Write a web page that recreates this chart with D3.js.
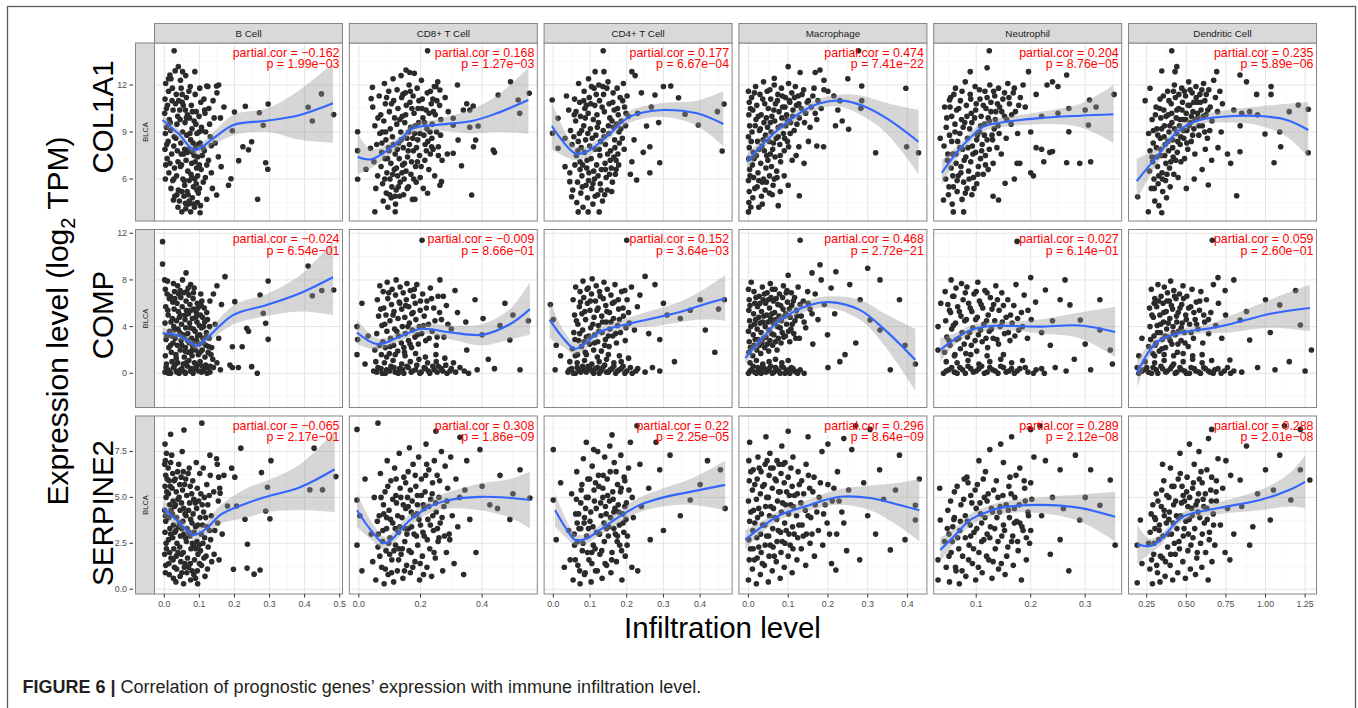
<!DOCTYPE html>
<html>
<head>
<meta charset="utf-8">
<script src="https://cdn.jsdelivr.net/npm/d3@7"></script>
<style>
body { margin: 0; background: #fff; }
svg text { font-family: "Liberation Sans", Arial, Helvetica, sans-serif; }
</style>
</head>
<body>
<svg id="fig" width="1358" height="708"></svg>
<script>
// facets
var cells = ["B Cell", "CD8+ T Cell", "CD4+ T Cell", "Macrophage", "Neutrophil", "Dendritic Cell"];
var genes = ["COL1A1", "COMP", "SERPINE2"];

var partialCor = [["-0.162", "0.168", "0.177", "0.474", "0.204", "0.235"],
                  ["-0.024", "-0.009", "0.152", "0.468", "0.027", "0.059"],
                  ["-0.065", "0.308", "0.22", "0.296", "0.289", "0.288"]];
var pValues = [["1.99e-03", "1.27e-03", "6.67e-04", "7.41e-22", "8.76e-05", "5.89e-06"],
               ["6.54e-01", "8.66e-01", "3.64e-03", "2.72e-21", "6.14e-01", "2.60e-01"],
               ["2.17e-01", "1.86e-09", "2.25e-05", "8.64e-09", "2.12e-08", "2.01e-08"]];

// axes (x per cell column, y per gene row)
var xDomains = [[-0.028, 0.508], [-0.031, 0.579], [-0.025, 0.487], [-0.024, 0.449], [0.022, 0.367], [0.135, 1.322]];
var xTicks = [[0, 0.1, 0.2, 0.3, 0.4, 0.5], [0, 0.2, 0.4], [0, 0.1, 0.2, 0.3, 0.4], [0, 0.1, 0.2, 0.3, 0.4], [0.1, 0.2, 0.3], [0.25, 0.5, 0.75, 1, 1.25]];
var xTickLabels = [["0.0", "0.1", "0.2", "0.3", "0.4", "0.5"], ["0.0", "0.2", "0.4"], ["0.0", "0.1", "0.2", "0.3", "0.4"], ["0.0", "0.1", "0.2", "0.3", "0.4"], ["0.1", "0.2", "0.3"], ["0.25", "0.50", "0.75", "1.00", "1.25"]];
var yDomains = [[3.32, 14.68], [-2.93, 12.32], [-0.26, 9.43]];
var yTicks = [[6, 9, 12], [0, 4, 8, 12], [0, 2.5, 5, 7.5]];
var yTickLabels = [["6", "9", "12"], ["0", "4", "8", "12"], ["0.0", "2.5", "5.0", "7.5"]];

// scatter points, flat x,y pairs, one list per cell
var col1a1Pts = [
 [.004,12.1,.012,11.6,.002,11.1,.009,10.7,.001,10.2,.014,9.8,.006,9.3,.003,8.9,.011,8.4,.002,7.9,.008,7.3,.004,6.9,.013,6.4,.019,12.4,.022,11.0,.025,10.4,.018,9.1,.027,8.1,.021,7.6,.029,6.7,.024,5.9,.031,12.9,.034,11.4,.038,10.0,.036,9.5,.033,8.6,.039,7.1,.035,6.2,.040,5.3,.043,4.6,.046,12.3,.048,11.8,.051,10.9,.044,10.4,.052,9.0,.047,8.3,.055,7.6,.049,6.9,.053,6.0,.058,5.6,.056,4.9,.061,12.6,.063,11.2,.066,10.1,.059,9.6,.064,8.8,.068,7.9,.062,7.2,.067,6.5,.071,5.9,.065,5.2,.069,4.4,.074,11.9,.077,10.7,.072,9.9,.079,9.2,.075,8.5,.081,7.7,.078,7.0,.076,6.3,.083,5.5,.080,4.8,.086,4.2,.088,11.4,.091,10.3,.085,9.7,.093,8.9,.089,8.0,.095,7.4,.092,6.7,.087,6.0,.097,5.1,.094,4.5,.101,11.8,.104,10.9,.099,10.0,.106,9.3,.102,8.3,.108,7.5,.105,6.6,.111,5.8,.100,5.4,.113,11.1,.116,10.2,.118,9.0,.114,7.8,.121,6.9,.117,6.1,.124,11.9,.127,10.5,.129,9.5,.131,8.7,.126,7.2,.134,6.4,.139,11.0,.142,9.9,.137,5.4,.145,8.3,
  .028,14.19,.04,13.17,.052,12.85,.087,12.85,.016,12.64,.448,11.43,.41,10.58,.422,9.70,.483,10.11,.296,10.79,.282,9.43,.271,10.23,.231,10.64,.2,10.28,.194,9.08,.134,8.13,.212,7.17,.224,8.06,.24,7.87,.249,8.38,.289,7.04,.295,6.62,.183,5.60,.19,6.02,.149,4.98,.121,4.71,.266,4.71,.162,6.79,.154,7.42,.05,3.91,.075,3.91,.102,3.85,.026,4.66,.06,4.45,.16,9.9,.17,10.6,.15,11.5,.155,12.0,.121,11.94,.149,11.94],
 [.045,10.6,.052,9.4,.058,8.2,.049,7.1,.061,6.2,.055,5.4,.066,11.3,.071,10.1,.068,8.9,.074,7.7,.072,6.8,.077,5.7,.079,4.6,.083,12.1,.086,10.8,.081,9.7,.088,8.5,.085,7.3,.091,6.4,.089,5.1,.094,4.2,.097,11.6,.099,10.3,.102,9.2,.096,8.0,.104,7.0,.101,6.0,.107,5.5,.105,4.8,.111,12.4,.113,11.0,.116,9.9,.109,8.7,.118,7.6,.115,6.6,.121,5.3,.119,4.4,.124,11.7,.127,10.5,.123,9.5,.129,8.3,.131,7.3,.126,6.2,.134,5.8,.132,4.9,.137,12.6,.139,11.2,.141,10.0,.136,9.0,.144,8.0,.142,6.9,.147,6.0,.145,5.0,.151,11.5,.154,10.7,.149,9.6,.156,8.6,.158,7.4,.153,6.5,.161,5.5,.163,12.0,.166,10.9,.168,9.3,.164,8.2,.171,7.1,.169,6.3,.174,4.7,.176,11.3,.179,10.2,.181,8.9,.177,7.8,.184,6.8,.186,5.8,.189,11.8,.192,10.5,.194,9.6,.191,8.5,.197,7.5,.199,6.1,.203,12.3,.206,11.1,.208,9.9,.211,8.8,.214,7.2,.209,5.4,.218,10.4,.221,9.2,.224,8.4,.227,6.6,.232,11.6,.235,10.8,.238,9.5,.241,7.9,.245,11.9,.248,10.1,.252,9.0,.256,12.2,.262,10.7,.266,9.8,
  .223,14.19,.153,12.96,.165,12.8,.18,12.75,.044,11.85,.04,11.13,-.004,9.02,-.004,7.81,-.004,5.98,.023,6.62,.038,7.96,.052,3.91,.118,3.91,.182,4.71,.223,5.09,.268,5.83,.263,5.6,.366,4.98,.333,6.85,.306,7.64,.27,7.2,.258,8.06,.236,8.06,.232,7.6,.287,7.6,.322,8.49,.379,8.49,.372,8.06,.436,7.85,.44,7.7,.387,9.38,.36,9.3,.306,9.87,.306,9.43,.32,12.0,.371,10.66,.35,10.8,.339,10.4,.36,10.4,.452,11.36,.492,12.21,.517,11.04,.522,10.19,.553,11.47,.263,11.68,.25,11.9,.29,10.3,.28,11.2],
 [.042,10.4,.047,9.1,.051,8.2,.045,6.4,.053,5.3,.058,11.1,.061,9.7,.056,8.7,.063,7.5,.059,6.9,.066,5.8,.064,4.5,.069,12.1,.072,10.9,.074,10.0,.071,8.9,.076,8.0,.073,7.1,.078,6.2,.075,5.1,.081,4.2,.084,11.6,.086,10.5,.083,9.4,.088,8.5,.085,7.7,.091,6.7,.089,5.6,.093,4.8,.096,12.4,.098,11.2,.095,10.2,.101,9.2,.099,8.1,.103,7.3,.097,6.4,.105,5.4,.108,4.4,.111,11.8,.113,10.7,.109,9.8,.116,8.8,.114,7.9,.118,6.9,.112,6.0,.121,5.0,.124,12.0,.126,11.0,.123,9.6,.129,8.4,.127,7.5,.131,6.6,.128,5.7,.134,4.6,.137,11.4,.139,10.3,.136,9.1,.142,8.2,.141,7.0,.144,6.1,.147,5.3,.149,12.2,.152,10.8,.154,9.9,.151,8.9,.156,7.8,.158,6.7,.161,5.8,.163,11.5,.166,10.4,.164,9.3,.168,8.0,.171,7.2,.169,6.3,.174,11.8,.177,10.1,.179,9.0,.176,7.6,.182,11.2,.185,9.7,.188,8.6,.191,12.1,.194,10.6,.197,9.4,.201,11.3,.205,10.0,
  .136,14.19,.114,12.85,.138,12.85,.214,12.85,.223,12.6,.036,11.3,-.003,11.04,.013,9.87,-.002,8.92,.032,8.6,.013,7.96,.032,6.79,.045,5.83,.05,4.87,.068,3.9,.095,3.9,.125,3.9,.214,7.1,.227,5.94,.263,6.4,.29,7.04,.263,8.06,.245,7.7,.254,9.38,.287,9.6,.341,11.19,.32,11.94,.3,11.9,.277,11.36,.359,10.13,.395,9.45,.447,10.3,.465,10.79,.46,7.79,.267,10.6,.23,10.2,.22,8.5,.24,11.5,.21,6.3],
 [.000,11.6,.002,10.9,.001,10.1,.003,9.4,.000,8.7,.002,8.0,.001,7.3,.003,6.6,.000,5.9,.002,5.2,.001,4.5,.000,3.9,.008,11.2,.011,10.4,.009,9.0,.012,7.7,.010,6.9,.013,6.1,.011,4.8,.018,11.9,.021,10.7,.019,9.8,.023,8.4,.020,7.5,.024,6.4,.022,5.5,.026,4.2,.029,11.4,.032,10.1,.030,9.2,.034,8.1,.031,7.0,.035,5.8,.033,4.9,.038,12.2,.041,10.8,.039,9.6,.043,8.8,.040,7.8,.044,6.7,.042,5.3,.047,11.6,.050,10.5,.048,9.3,.052,8.4,.049,7.2,.053,6.2,.056,11.1,.059,10.0,.057,9.0,.061,7.9,.058,6.8,.062,5.6,.065,12.0,.068,10.8,.066,9.7,.070,8.6,.067,7.4,.071,6.5,.074,11.4,.077,10.3,.075,9.3,.079,8.2,.081,7.1,.083,11.8,.086,10.6,.084,9.9,.088,8.9,.090,7.8,.093,11.2,.096,10.1,.094,9.4,.098,8.4,.101,12.1,.104,10.9,.106,9.6,.109,11.5,.112,10.4,.115,9.1,.118,11.9,.121,10.7,.125,11.3,.128,9.9,.133,10.5,.139,11.7,.144,10.2,.151,11.0,.158,10.6,.165,11.8,.172,9.8,
  .277,14.19,.1,13.17,.13,12.8,.168,12.8,.18,12.96,.065,12.43,.285,11.94,.396,11.79,.428,7.68,.398,8.06,.32,7.68,.252,9.17,.236,9.7,.219,9.4,.189,8.06,.172,8.1,.151,8.4,.127,8.06,.101,8.06,.12,7.5,.11,7.2,.09,6.2,.08,5.2,.06,5.0,.128,4.93,.283,10.51,.285,11.0,.23,11.0,.215,11.3,.2,11.6,.225,10.4,.19,12.3,.25,12.4,.075,4.3,.1,5.6,.14,7.0],
 [.042,10.6,.045,9.3,.041,8.1,.047,7.2,.044,6.0,.049,5.0,.053,11.2,.055,10.0,.051,8.8,.057,7.6,.054,6.7,.058,5.5,.056,4.4,.062,11.8,.064,10.4,.061,9.5,.066,8.4,.063,7.0,.067,6.2,.065,5.2,.071,11.0,.073,9.8,.070,8.9,.075,7.9,.072,6.8,.077,5.8,.074,4.7,.080,12.2,.082,10.7,.079,9.6,.084,8.6,.081,7.4,.086,6.5,.083,5.4,.089,11.4,.091,10.2,.088,9.2,.093,8.1,.090,7.1,.095,6.1,.092,5.0,.098,11.9,.100,10.8,.097,9.9,.102,8.8,.099,7.7,.104,6.8,.101,5.7,.107,11.1,.109,10.0,.106,9.0,.111,8.2,.108,7.3,.113,6.3,.116,11.6,.118,10.5,.115,9.5,.120,8.5,.117,7.5,.122,6.6,.125,12.0,.127,10.9,.124,9.7,.129,8.8,.131,7.0,.134,11.3,.136,10.3,.133,9.2,.138,8.0,.141,11.8,.143,10.6,.140,9.4,.146,7.6,.149,11.1,.152,10.0,.155,8.6,.158,12.1,.161,10.8,.164,9.5,.168,11.5,.172,10.3,.176,8.9,.181,11.2,.186,12.0,
  .124,14.19,.089,12.85,.12,13.1,.196,12.85,.266,12.64,.24,12.2,.25,11.9,.23,12.0,.353,11.4,.308,11.04,.306,9.45,.27,9.02,.266,7.04,.29,7.0,.31,7.1,.224,7.1,.2,6.4,.205,6.2,.21,8.0,.22,7.9,.235,7.7,.24,7.75,.175,7.0,.18,7.0,.153,5.73,.141,4.66,.131,4.9,.077,3.9,.058,3.9,.04,4.66,.051,11.04,.034,8.6,.27,10.5,.25,10.2,.22,10.0,.2,9.0,.19,10.6,.21,11.4,.3,10.4,.32,10.6,.17,6.0],
 [.262,8.9,.271,7.8,.268,6.5,.279,5.4,.284,9.8,.291,8.3,.288,7.1,.296,6.0,.301,4.6,.309,10.6,.314,9.2,.311,8.0,.318,6.8,.322,5.7,.327,4.3,.334,11.1,.339,9.9,.336,8.6,.342,7.5,.347,6.4,.351,5.2,.358,10.4,.362,9.4,.366,8.2,.371,7.0,.369,5.9,.375,4.8,.382,11.6,.386,10.1,.391,9.0,.388,7.8,.394,6.7,.398,5.5,.405,10.8,.409,9.6,.413,8.5,.417,7.4,.421,6.3,.425,12.0,.431,11.2,.436,9.9,.439,8.9,.443,7.7,.448,6.1,.452,10.5,.457,9.4,.461,8.2,.466,7.1,.471,11.8,.476,10.9,.479,9.8,.484,8.6,.489,7.3,.495,11.3,.499,10.2,.504,9.1,.509,7.9,.515,12.2,.521,10.7,.526,9.6,.531,8.4,.537,11.5,.542,10.3,.548,9.2,.554,7.6,.561,11.9,.567,10.9,.573,9.9,.579,8.8,.586,11.4,.593,10.4,.601,9.4,.609,12.1,.617,11.0,.624,10.1,.633,8.6,.642,11.7,.651,10.6,.662,9.7,.673,12.3,.684,11.2,.697,10.3,.712,11.6,.728,10.8,
  .408,14.19,.345,12.89,.429,12.85,.44,13.17,.692,12.85,.839,12.64,.88,12.2,.271,11.79,.24,11.0,.193,4.87,.26,3.91,.345,3.85,.818,4.93,.639,5.62,1.054,7.04,1.096,8.06,.997,8.87,1.09,9.0,1.27,7.68,1.27,10.45,1.207,10.72,1.035,11.9,1.035,11.4,.944,11.4,.8,10.4,.85,10.2,.839,7.74,.76,7.6,.78,7.0,.84,9.4,.7,8.0,.72,9.0,.66,7.2,.6,6.6,.55,6.0,.5,5.4,.9,10.3,.95,10.1,1.15,10.3,.62,7.9]
];
// extra points in the densest part of each cloud
var col1a1More = [
 [.006,10.5,.017,9.6,.028,8.7,.037,7.8,.046,6.8,.057,5.9,.068,5.0,.079,6.1,.088,7.1,.097,8.2,.107,9.1,.115,10.4,.007,8.2,.016,7.0,.027,6.0,.036,5.0,.045,9.8,.054,10.7,.063,9.9,.073,8.9,.082,8.3,.091,5.7,.100,6.9,.110,8.0,.012,12.4,.023,11.8,.032,10.8,.041,11.0,.051,11.4,.060,10.4,.070,11.6,.080,10.3,.090,9.5,.099,9.0,.003,6.0,.019,5.4,.030,4.9,.039,4.2,.050,5.2,.061,4.1,.071,4.6,.083,4.4,.093,5.3,.103,4.3,.058,7.9,.048,7.6,.066,7.7,.085,7.5,.095,6.2],
 [.062,9.9,.076,9.0,.084,6.0,.093,7.3,.106,10.8,.112,8.2,.122,6.7,.133,9.8,.143,11.4,.148,7.0,.157,5.4,.162,9.0,.172,10.5,.178,6.0,.187,8.0,.195,11.0,.202,6.8,.213,9.6,.219,7.8,.228,10.2,.237,8.6,.246,6.2,.253,11.0,.258,7.5,.090,11.2,.100,5.0,.117,4.9,.128,5.5,.138,8.5,.152,10.1,.167,11.6,.183,9.4,.198,8.9,.205,10.5,.222,11.5,.231,9.0,.242,10.3,.075,8.3,.087,9.0,.098,7.8,.110,6.3,.125,7.9,.140,6.4,.160,7.8,.175,8.6,.190,7.1,.215,8.2,.240,11.1,.265,8.8],
 [.062,10.3,.068,8.4,.073,6.6,.079,5.5,.083,11.0,.087,9.9,.092,7.2,.096,5.9,.102,10.8,.106,8.6,.110,6.5,.114,4.9,.117,11.4,.120,9.3,.125,7.9,.130,5.3,.133,10.6,.138,8.7,.142,6.6,.146,11.8,.150,9.4,.155,7.2,.159,5.2,.162,10.9,.167,8.5,.171,6.6,.175,10.5,.180,8.3,.184,9.2,.189,11.0,.193,7.9,.198,10.2,.077,9.1,.090,10.7,.104,11.9,.119,10.1,.135,11.9,.148,7.6,.160,9.7,.173,9.5,.057,10.1,.067,7.8,.080,6.9,.094,8.9,.108,5.7,.122,6.2,.140,5.0,.153,6.3,.165,7.4,.178,6.9],
 [.005,10.5,.007,8.4,.004,6.2,.006,4.2,.015,11.5,.017,9.4,.014,7.3,.016,5.4,.025,10.0,.027,7.9,.026,5.9,.028,9.1,.036,11.1,.037,8.5,.038,6.0,.035,4.4,.045,9.9,.046,7.5,.045,5.8,.054,11.7,.055,9.6,.055,7.6,.053,5.1,.064,10.4,.063,8.3,.065,6.0,.073,11.0,.075,8.7,.072,6.1,.082,9.4,.080,7.5,.085,11.3,.092,10.6,.091,8.6,.097,9.8,.103,11.0,.105,8.9,.111,10.0,.116,11.2,.122,9.5,.127,10.8,.135,11.4,.141,9.6,.148,10.9,.155,9.3,.162,11.3,.168,10.2,.175,11.0,.183,10.5,.190,11.7],
 [.046,9.9,.048,7.6,.050,5.5,.052,10.6,.055,8.4,.057,6.2,.059,11.4,.061,9.0,.063,7.6,.065,5.9,.068,10.5,.070,8.0,.072,6.4,.074,11.6,.076,9.3,.078,7.2,.080,5.1,.083,10.0,.085,8.0,.087,6.0,.090,11.1,.092,9.6,.094,7.6,.096,5.4,.099,10.4,.101,8.5,.103,6.3,.106,11.7,.108,9.4,.110,7.8,.113,10.7,.115,8.8,.117,6.9,.120,11.2,.122,9.9,.124,7.9,.127,10.3,.130,8.5,.132,11.6,.135,9.8,.139,10.8,.142,8.9,.147,10.3,.152,11.5,.156,9.8,.160,11.2,.165,10.1,.170,11.8,.178,10.7],
 [.283,7.4,.292,9.1,.298,5.4,.305,10.1,.313,7.4,.320,8.8,.326,6.2,.332,10.5,.338,7.9,.344,9.2,.349,6.0,.355,11.3,.360,8.7,.364,7.5,.372,10.0,.378,6.3,.384,8.4,.390,11.0,.396,9.4,.402,7.1,.408,10.2,.414,8.0,.419,11.6,.426,9.2,.433,7.2,.440,10.4,.446,8.4,.453,11.4,.459,9.8,.465,8.7,.473,10.4,.481,9.1,.488,11.6,.496,9.8,.503,8.3,.511,10.7,.518,9.4,.524,11.7,.532,10.0,.540,8.8,.547,10.9,.555,9.8,.563,11.2,.571,10.2,.580,9.4,.589,10.9,.598,11.7,.607,10.0,.616,9.0,.626,11.4,.636,10.4,.648,9.1]
];

var compPts = [
 [.002,0.1,.010,0.3,.018,0.0,.026,0.5,.034,0.2,.042,0.0,.050,0.4,.058,0.1,.066,0.6,.074,0.2,.082,0.0,.090,0.5,.098,0.2,.106,0.1,.114,0.4,.122,0.0,.006,0.8,.022,1.0,.038,0.9,.054,0.8,.070,1.1,.086,0.9,.102,1.0,.118,0.7,.003,1.5,.013,2.2,.005,2.9,.015,3.6,.002,4.3,.011,5.0,.004,5.7,.014,6.4,.003,7.2,.009,7.9,.001,8.0,.020,1.8,.025,2.6,.021,3.2,.027,4.0,.023,4.7,.028,5.5,.024,6.1,.029,7.0,.026,7.7,.033,1.6,.037,2.4,.031,3.0,.039,3.8,.035,4.5,.040,5.3,.036,6.0,.041,6.8,.038,7.5,.045,2.0,.048,2.8,.044,3.5,.049,4.2,.046,5.0,.051,5.7,.047,6.5,.052,8.0,.057,1.4,.060,2.2,.056,3.1,.061,3.9,.059,4.6,.063,5.4,.062,6.2,.064,7.0,.062,8.6,.068,1.8,.071,2.6,.067,3.4,.072,4.3,.069,5.1,.073,5.9,.070,6.7,.075,7.6,.079,1.5,.081,2.3,.078,3.0,.083,3.8,.080,4.7,.084,5.5,.082,6.4,.085,7.3,.089,2.0,.092,2.8,.088,3.6,.093,4.4,.091,5.2,.094,6.0,.097,1.6,.099,2.5,.101,3.3,.100,4.1,.103,5.0,.105,5.8,.104,6.8,.108,2.0,.110,3.0,.112,4.0,.109,4.8,.114,5.6,.116,1.4,.118,2.4,.120,3.5,.123,4.6,.125,1.8,.128,3.0,.131,0.6,.135,2.2,.138,1.2,
  -.005,11.28,-.005,9.37,.173,8.28,.296,7.91,.41,9.19,.483,7.14,.449,7.1,.422,6.65,.273,6.71,.282,5.14,.289,4.28,.296,2.91,.235,3.85,.24,3.6,.201,6.14,.163,5.9,.194,2.28,.222,2.28,.187,0.71,.194,0.5,.211,0.5,.249,0.57,.265,0.0,.14,0.5,.15,0.9,.16,0.3,.15,7.5,.14,6.8,.13,6.2,.145,4.2,.155,3.0],
 [.048,0.2,.062,0.5,.076,0.0,.090,0.3,.104,0.6,.118,0.1,.132,0.4,.146,0.0,.160,0.5,.174,0.2,.188,0.7,.202,0.1,.216,0.4,.230,0.0,.244,0.3,.258,0.6,.272,0.2,.286,0.0,.300,0.4,.314,0.1,.328,0.5,.342,0.2,.356,0.0,.384,0.3,.055,1.0,.083,0.9,.111,1.1,.139,0.8,.167,1.0,.195,1.2,.223,0.9,.251,1.0,.279,1.3,.307,0.9,.052,2.0,.058,3.4,.064,4.9,.060,6.3,.068,7.5,.073,1.6,.078,2.7,.075,4.1,.081,5.6,.079,7.0,.086,2.2,.091,3.6,.088,5.0,.094,6.4,.092,7.8,.099,1.7,.103,3.0,.101,4.5,.106,5.9,.108,7.2,.113,2.4,.116,3.8,.114,5.3,.119,6.7,.121,8.0,.126,1.9,.129,3.2,.127,4.7,.131,6.1,.134,7.4,.138,2.6,.141,4.0,.139,5.5,.144,6.9,.148,1.8,.151,3.4,.149,4.8,.154,6.3,.156,7.7,.161,2.8,.164,4.3,.162,5.7,.167,7.1,.171,2.2,.174,3.7,.172,5.1,.177,6.6,.182,3.1,.185,4.6,.183,6.0,.188,7.6,.193,2.5,.196,4.0,.199,5.4,.204,3.4,.207,6.8,.212,4.9,.217,2.8,.221,6.2,.226,4.2,.232,7.3,.238,3.6,.243,5.6,.251,2.4,.257,6.6,.263,8.0,.268,4.6,.276,3.1,.284,5.8,
  .205,11.4,-.006,4.0,-.004,2.9,-.006,1.6,.01,6.0,.02,0.8,.03,3.2,.347,4.4,.403,4.7,.474,6.0,.49,2.85,.523,0.3,.458,4.1,.377,6.3,.312,7.1,.35,2.0,.42,1.2,.44,0.4,.4,3.3,.3,3.8,.32,5.2,.55,4.5,.5,5.0],
 [.040,0.1,.050,0.4,.060,0.0,.070,0.3,.080,0.6,.090,0.1,.100,0.4,.110,0.0,.120,0.5,.130,0.2,.140,0.7,.150,0.1,.160,0.4,.170,0.0,.180,0.3,.190,0.6,.200,0.2,.215,0.0,.230,0.4,.250,0.1,.270,0.5,.290,0.2,.045,1.0,.065,0.9,.085,1.1,.105,0.8,.125,1.0,.145,1.2,.165,0.9,.185,1.0,.205,1.3,.052,2.1,.056,3.5,.058,5.0,.054,6.3,.061,7.4,.066,1.6,.069,2.8,.067,4.2,.071,5.7,.073,7.0,.077,2.3,.080,3.7,.078,5.1,.083,6.5,.081,7.9,.087,1.8,.090,3.1,.088,4.6,.093,6.0,.095,7.3,.099,2.5,.102,3.9,.100,5.4,.104,6.8,.106,8.1,.110,2.0,.113,3.3,.111,4.8,.115,6.2,.117,7.5,.121,2.7,.123,4.1,.122,5.6,.126,7.0,.131,1.9,.133,3.5,.132,4.9,.136,6.4,.138,7.8,.142,2.9,.144,4.4,.143,5.8,.147,7.2,.152,2.3,.154,3.8,.153,5.2,.157,6.7,.162,3.2,.164,4.7,.166,6.1,.168,7.6,.172,2.6,.175,4.1,.178,5.5,.183,3.5,.186,7.0,.191,4.9,.196,2.8,.201,6.3,.207,4.3,.213,7.4,.221,3.7,.229,5.7,
  .2,11.4,.277,7.6,.373,5.4,.4,6.3,.466,6.3,.346,4.7,.414,3.7,.29,2.9,.195,7.1,.236,6.7,-.008,5.9,.0,4.6,.008,2.4,.005,0.3,.02,1.5,.26,3.4,.31,5.0,.33,1.0,.45,5.5,.25,8.3,.3,6.0,.44,1.8],
 [.000,0.0,.008,0.3,.016,0.1,.024,0.5,.032,0.0,.040,0.4,.048,0.2,.056,0.6,.064,0.1,.072,0.3,.080,0.0,.088,0.5,.096,0.2,.104,0.0,.112,0.4,.120,0.1,.130,0.3,.140,0.0,.004,0.9,.020,1.1,.036,0.8,.052,1.0,.068,1.2,.084,0.9,.100,1.1,.001,1.8,.002,2.7,.000,3.6,.003,4.5,.001,5.4,.002,6.3,.000,7.2,.011,1.5,.014,2.4,.012,3.3,.015,4.2,.013,5.1,.016,6.0,.014,7.0,.021,2.0,.024,2.9,.022,3.8,.026,4.8,.023,5.7,.027,6.6,.031,1.7,.034,2.6,.032,3.5,.036,4.4,.033,5.3,.037,6.3,.035,7.4,.041,2.2,.044,3.1,.042,4.0,.046,5.0,.043,6.0,.047,6.9,.051,1.9,.054,2.8,.052,3.7,.056,4.7,.053,5.6,.057,6.5,.055,7.7,.061,2.4,.064,3.3,.062,4.3,.066,5.2,.063,6.2,.067,7.2,.072,2.0,.075,3.0,.073,4.0,.077,4.9,.074,5.9,.078,6.8,.082,2.6,.085,3.5,.083,4.5,.087,5.5,.086,6.5,.088,7.5,.093,3.2,.096,4.2,.094,5.1,.098,6.1,.097,7.1,.104,2.7,.107,3.8,.105,4.8,.109,5.8,.108,6.9,.114,3.4,.117,4.5,.116,6.5,.121,5.4,.125,7.4,.128,3.0,.133,4.9,.138,6.2,.144,3.9,.149,7.0,.155,5.5,.162,2.5,.168,6.8,.175,4.6,.183,8.0,.191,5.9,.199,3.3,.208,7.3,.217,5.1,
  .13,11.4,.306,4.57,.331,3.7,.394,2.4,.357,0.3,.281,6.3,.255,7.6,.331,8.0,.38,6.3,.243,1.6,.18,9.3,.3,9.0,.22,8.7,.23,1.0,.2,0.5,.27,2.6,.42,0.8,.16,8.6,.1,8.4],
 [.040,0.0,.050,0.3,.060,0.1,.070,0.5,.080,0.0,.090,0.4,.100,0.2,.110,0.6,.120,0.1,.130,0.3,.140,0.0,.150,0.5,.160,0.2,.170,0.0,.180,0.4,.195,0.1,.210,0.3,.225,0.0,.245,0.5,.265,0.2,.045,1.0,.065,0.9,.085,1.1,.105,0.8,.125,1.0,.145,1.2,.165,0.9,.185,1.1,.042,1.8,.046,3.1,.044,4.5,.048,5.9,.043,7.0,.052,2.4,.055,3.8,.053,5.2,.057,6.6,.054,8.0,.061,1.6,.064,2.9,.062,4.3,.066,5.7,.063,7.3,.071,2.1,.074,3.5,.072,4.9,.076,6.3,.073,7.7,.081,1.7,.084,3.1,.082,4.6,.086,6.0,.083,7.4,.091,2.4,.094,3.9,.092,5.3,.096,6.8,.101,1.9,.104,3.3,.102,4.8,.106,6.2,.103,7.8,.111,2.7,.114,4.2,.112,5.6,.116,7.1,.121,2.2,.124,3.6,.122,5.0,.126,6.5,.131,3.0,.134,4.5,.132,5.9,.136,7.5,.141,2.5,.144,4.0,.142,5.4,.147,6.9,.152,3.4,.155,4.8,.158,6.3,.162,2.8,.166,4.3,.169,5.8,.173,7.6,.178,3.7,.183,5.2,.188,6.7,.194,3.0,.201,4.6,.209,6.1,
  .175,11.3,.291,4.57,.327,3.7,.272,5.86,.227,7.14,.254,6.3,.346,2.0,.31,0.3,.236,2.4,.263,8.0,.327,6.3,.03,2.0,.03,4.0,.035,6.0,.22,3.5,.24,4.5,.35,0.8,.3,2.5,.2,8.2,.28,1.2],
 [.200,0.0,.230,0.3,.260,0.1,.290,0.5,.320,0.0,.350,0.4,.380,0.2,.410,0.6,.440,0.1,.470,0.3,.500,0.0,.530,0.5,.560,0.2,.590,0.0,.620,0.4,.650,0.1,.680,0.3,.720,0.0,.760,0.5,.800,0.2,.850,0.1,.240,1.0,.300,0.9,.360,1.1,.420,0.8,.480,1.0,.540,1.2,.600,0.9,.660,1.1,.262,2.3,.271,4.0,.268,5.6,.279,7.2,.288,1.7,.296,3.2,.292,4.8,.301,6.4,.309,2.6,.316,4.1,.313,5.7,.321,7.6,.329,1.9,.336,3.5,.333,5.0,.341,6.6,.349,2.9,.356,4.4,.353,6.0,.361,7.4,.369,2.2,.376,3.8,.373,5.3,.381,6.9,.389,3.1,.396,4.7,.393,6.2,.401,7.9,.409,2.5,.416,4.0,.413,5.5,.421,7.1,.431,3.3,.438,4.9,.435,6.4,.444,1.8,.452,3.6,.449,5.2,.457,6.8,.467,2.8,.474,4.3,.471,5.9,.479,7.5,.489,3.5,.496,5.0,.503,6.6,.512,2.3,.521,4.2,.528,5.7,.536,7.2,.545,3.0,.556,4.6,.563,6.1,.574,3.8,.583,5.4,.592,7.0,.604,2.6,.616,4.4,.627,6.3,.641,3.4,.655,5.2,.671,7.6,.686,4.1,.703,6.0,.724,3.0,.748,5.0,
  .664,11.4,.84,4.57,1.0,6.3,1.09,5.86,1.22,4.14,1.29,2.0,1.06,0.3,.9,2.85,1.19,7.1,.745,7.1,.775,1.14,.95,0.5,1.15,1.0,1.25,0.2,.19,0.5,.2,1.5,.22,3.0,.8,8.0,.88,5.3,.7,8.2,1.03,3.5]
];
var compMore = [
 [.005,0.5,.014,0.2,.030,0.7,.046,0.3,.062,0.9,.078,0.4,.094,0.7,.110,0.2,.126,0.5,.012,0.0,.036,0.1,.060,0.0,.084,0.3,.108,0.6,.130,0.1,.007,3.2,.010,5.4,.008,6.8,.018,2.4,.019,4.4,.017,6.6,.028,3.7,.030,6.4,.034,1.3,.043,4.8,.045,7.1,.050,2.4,.053,3.3,.055,6.9,.059,1.9,.060,5.0,.066,2.8,.068,7.3,.074,3.9,.076,5.4,.077,1.9,.083,6.9,.086,2.7,.090,4.8,.095,3.2,.096,5.6,.102,1.8,.106,3.9,.107,6.2,.111,2.6,.115,4.4,.119,3.1,.121,5.2,.126,2.3,.129,4.0,.133,1.6],
 [.058,0.1,.072,0.4,.086,0.0,.100,0.2,.114,0.5,.128,0.0,.142,0.3,.156,0.6,.170,0.1,.184,0.3,.198,0.0,.212,0.5,.226,0.2,.240,0.6,.254,0.1,.268,0.4,.282,0.7,.296,0.2,.067,2.4,.071,5.5,.084,4.2,.097,6.9,.102,2.3,.111,5.0,.123,3.6,.133,6.0,.146,2.2,.152,5.8,.159,4.0,.166,2.5,.176,5.2,.180,7.2,.190,3.3,.200,6.2,.210,4.1,.219,5.6,.228,3.0,.236,6.4,.247,4.5,.254,3.1,.262,5.2,.274,6.6,.289,4.2,.090,1.4,.118,1.6,.150,1.5,.184,1.7,.216,1.4,.250,1.6],
 [.044,0.3,.055,0.0,.065,0.5,.075,0.1,.085,0.3,.095,0.6,.105,0.2,.115,0.4,.125,0.0,.135,0.5,.145,0.1,.155,0.3,.165,0.6,.175,0.2,.185,0.4,.195,0.0,.210,0.5,.225,0.2,.059,2.9,.063,4.5,.072,3.4,.074,6.1,.084,2.7,.086,5.3,.092,7.2,.097,3.2,.101,6.2,.108,4.2,.112,2.6,.119,5.4,.124,3.6,.128,6.6,.134,4.4,.140,2.4,.146,5.3,.150,3.2,.157,4.4,.161,6.0,.170,3.4,.177,6.3,.180,4.6,.190,5.6,.198,3.9,.205,5.2,.060,1.5,.090,1.6,.120,1.4,.150,1.6,.180,1.5],
 [.004,0.2,.012,0.6,.020,0.0,.028,0.3,.036,0.6,.044,0.1,.052,0.4,.060,0.0,.068,0.5,.076,0.2,.084,0.6,.092,0.0,.100,0.3,.108,0.5,.116,0.2,.124,0.0,.005,2.2,.006,4.0,.004,5.8,.007,7.8,.017,2.9,.018,4.6,.019,6.5,.028,2.4,.029,4.3,.029,6.0,.038,3.0,.039,4.9,.040,6.8,.048,2.5,.049,4.4,.050,6.3,.058,3.4,.059,5.1,.060,7.2,.068,2.7,.069,4.6,.070,6.4,.080,3.9,.081,5.8,.089,3.1,.091,4.9,.095,6.9,.101,3.6,.103,5.5,.110,4.2,.113,6.2,.119,3.0,.122,4.9,.130,5.9,.140,4.4,.150,6.0,.160,5.1],
 [.045,0.2,.055,0.5,.065,0.0,.075,0.3,.085,0.6,.095,0.1,.105,0.4,.115,0.0,.125,0.5,.135,0.2,.145,0.6,.155,0.1,.165,0.4,.175,0.2,.190,0.5,.205,0.0,.220,0.4,.050,2.8,.051,5.4,.058,4.1,.059,6.6,.068,3.0,.069,5.3,.078,2.5,.079,4.5,.080,6.9,.088,3.5,.089,5.6,.098,2.8,.099,4.6,.100,7.0,.108,3.7,.109,5.9,.118,3.0,.119,4.5,.120,6.9,.128,3.8,.129,5.5,.138,2.9,.139,6.3,.148,4.4,.150,5.8,.159,3.5,.163,5.0,.171,3.2,.176,4.7,.185,4.0,.195,5.4,.060,1.5,.090,1.6,.120,1.5,.150,1.6],
 [.220,0.2,.250,0.5,.280,0.0,.310,0.3,.340,0.6,.370,0.1,.400,0.4,.430,0.0,.460,0.5,.490,0.2,.520,0.0,.550,0.4,.580,0.1,.610,0.5,.640,0.2,.670,0.0,.700,0.4,.740,0.2,.780,0.0,.275,2.9,.283,5.0,.297,6.0,.304,2.4,.318,3.5,.325,6.2,.338,4.2,.346,2.1,.358,5.2,.366,3.2,.378,6.2,.386,4.3,.398,2.8,.406,5.8,.418,3.5,.426,6.6,.440,4.4,.447,2.5,.460,5.6,.468,3.9,.482,6.4,.492,2.6,.500,4.6,.515,5.6,.530,3.5,.548,5.2,.565,4.2,.585,6.2,.610,5.0,.640,4.6,.300,1.5,.360,1.6,.420,1.5,.480,1.7,.540,1.5,.600,1.6]
];

var serpine2Pts = [
 [.002,7.9,.006,7.4,.001,6.8,.004,6.2,.002,5.6,.005,5.0,.001,4.3,.004,3.7,.002,3.1,.005,2.5,.001,1.9,.004,1.3,.011,6.6,.014,5.9,.012,5.2,.015,4.6,.013,3.9,.016,3.3,.012,2.7,.015,2.0,.013,1.4,.014,0.8,.021,7.3,.024,6.3,.022,5.5,.025,4.8,.023,4.1,.026,3.5,.024,2.8,.027,2.2,.025,1.6,.026,0.6,.031,6.0,.034,5.3,.032,4.6,.035,3.9,.033,3.2,.036,2.5,.034,1.8,.035,1.1,.033,0.4,.041,6.8,.044,5.7,.042,5.0,.045,4.3,.043,3.6,.046,2.9,.044,2.3,.047,1.5,.045,0.7,.051,7.5,.054,6.4,.052,5.4,.055,4.4,.053,3.7,.056,3.0,.054,2.0,.057,1.2,.055,0.3,.061,6.0,.064,5.1,.062,4.0,.065,3.3,.063,2.6,.066,1.7,.064,0.9,.071,6.6,.074,5.6,.072,4.7,.075,3.8,.073,2.9,.076,2.2,.074,1.4,.075,0.5,.081,5.9,.084,4.9,.082,4.1,.085,3.1,.083,2.4,.086,1.6,.084,0.8,.091,6.9,.094,5.5,.092,4.4,.095,3.5,.093,2.6,.096,1.9,.094,1.0,.095,0.3,.101,6.3,.104,5.2,.102,3.9,.105,3.0,.103,2.1,.106,1.3,.111,6.6,.114,5.0,.112,4.2,.115,2.8,.113,1.7,.116,0.7,.121,5.7,.124,4.6,.122,3.4,.125,2.3,.123,1.1,.131,6.2,.134,4.0,.132,2.7,.135,1.5,.141,5.3,.144,3.2,.142,1.9,.151,6.8,.154,4.8,.152,3.6,.156,1.6,.158,5.5,
  .107,9.04,.018,8.44,.056,8.67,.218,7.68,.304,7.0,.277,6.35,.192,6.59,.201,6.1,.18,4.53,.206,4.53,.23,3.81,.289,4.26,.301,3.83,.294,5.55,.237,2.45,.197,1.09,.236,1.15,.273,1.05,.256,0.82,.415,5.41,.451,5.41,.427,7.68,.489,6.13,.159,5.23,.155,6.1,.149,7.1,.13,7.3,.17,6.2,.165,3.0],
 [.040,3.0,.045,1.5,.050,5.0,.055,0.5,.062,2.3,.066,4.0,.070,6.3,.074,1.2,.078,3.2,.082,0.3,.085,5.3,.088,2.1,.092,7.0,.095,0.8,.098,4.3,.101,2.8,.104,5.9,.107,1.6,.110,3.6,.113,0.4,.116,6.6,.119,2.4,.122,4.7,.125,1.0,.128,3.1,.131,7.4,.134,5.5,.137,1.9,.140,3.9,.143,0.6,.146,6.1,.149,2.6,.152,4.4,.155,1.3,.158,5.0,.161,3.3,.164,7.7,.167,0.9,.170,2.0,.173,4.8,.176,6.8,.179,3.0,.182,1.5,.185,5.6,.188,4.1,.191,2.4,.194,7.2,.197,0.5,.200,3.5,.203,6.0,.206,1.8,.209,4.6,.212,2.9,.215,5.3,.218,7.9,.221,1.2,.224,3.8,.227,6.5,.230,2.2,.233,4.9,.236,0.7,.239,5.8,.242,3.2,.245,7.0,.248,1.7,.251,4.2,.254,6.2,.257,2.6,.260,5.0,.264,3.6,.268,7.5,.272,1.0,.276,4.5,.280,6.7,.284,2.0,.288,5.5,.293,3.0,.298,7.2,.303,4.0,.309,1.4,.315,6.0,.321,3.4,.327,5.0,.060,3.7,.080,4.6,.090,3.9,.100,1.9,.120,5.1,.130,2.2,.150,3.3,.160,6.4,.170,4.2,.190,5.1,.210,0.8,.220,6.8,.240,4.0,.260,2.8,
  .062,9.04,.328,8.27,.393,7.6,.458,6.2,.523,6.5,.555,4.97,.49,3.8,.425,4.6,.36,3.8,.295,2.7,.344,5.4,-.006,4.86,-.006,2.4,.003,4.0,-.006,8.7,.02,6.0,.01,1.0,.35,7.0,.4,5.6,.38,2.0,.45,4.4,.5,5.2,.34,0.8,.25,8.6],
 [.042,3.2,.046,1.6,.050,5.2,.054,0.5,.058,2.4,.061,4.1,.064,6.4,.067,1.3,.070,3.3,.073,0.3,.076,5.4,.079,2.1,.082,7.1,.085,0.8,.088,4.4,.091,2.9,.094,6.0,.097,1.6,.100,3.7,.103,0.4,.106,6.7,.109,2.4,.112,4.8,.115,1.0,.118,3.1,.121,7.5,.124,5.6,.127,1.9,.130,4.0,.133,0.6,.136,6.2,.139,2.6,.142,4.5,.145,1.3,.148,5.1,.151,3.4,.154,7.8,.157,0.9,.160,2.0,.163,4.9,.166,6.9,.169,3.0,.172,1.5,.175,5.7,.178,4.2,.181,2.4,.184,7.3,.187,0.5,.190,3.6,.193,6.1,.196,1.8,.199,4.7,.202,2.9,.206,5.4,.210,8.0,.214,1.2,.218,3.9,.065,3.6,.075,4.7,.085,3.9,.095,5.0,.105,2.0,.115,5.8,.125,3.0,.135,5.0,.145,3.3,.155,6.4,.165,4.2,.175,2.9,.185,5.5,.195,4.5,.205,6.6,.215,5.0,.090,8.0,.110,7.6,.140,7.2,.160,8.4,
  .228,8.9,.29,6.5,.373,4.86,.4,5.7,.455,6.5,.468,4.4,.346,4.0,.264,2.7,.236,6.8,.318,7.3,.0,4.86,.0,7.6,.008,2.7,.24,4.5,.26,5.5,.3,3.2,.23,1.0,.28,8.0,.02,5.8,.03,1.2,.42,7.0],
 [.000,0.5,.002,1.6,.001,2.7,.003,3.7,.000,4.8,.002,5.9,.001,7.0,.003,8.0,.010,1.1,.012,2.2,.011,3.2,.013,4.3,.010,5.4,.012,6.5,.020,0.3,.022,1.7,.021,2.8,.023,3.9,.020,4.9,.022,6.0,.024,7.2,.030,0.8,.032,2.0,.031,3.0,.033,4.1,.030,5.2,.032,6.4,.040,1.3,.042,2.4,.041,3.5,.043,4.5,.040,5.7,.042,6.8,.044,8.3,.050,0.4,.052,1.8,.051,2.9,.053,4.0,.050,5.0,.052,6.2,.054,7.4,.060,1.0,.062,2.3,.061,3.3,.063,4.4,.060,5.5,.062,6.6,.070,1.5,.072,2.6,.071,3.8,.073,4.8,.070,5.9,.072,7.0,.080,0.6,.082,2.0,.081,3.1,.083,4.2,.080,5.3,.082,6.3,.084,7.8,.090,1.2,.092,2.5,.091,3.6,.093,4.6,.090,5.8,.092,6.9,.100,1.8,.102,3.0,.101,4.1,.103,5.1,.100,6.1,.110,0.9,.112,2.2,.111,3.4,.113,4.5,.110,5.6,.112,7.2,.122,1.6,.124,2.8,.121,4.0,.123,5.2,.125,6.4,.133,2.2,.135,3.5,.132,4.7,.134,5.9,.144,1.3,.146,3.0,.143,4.3,.145,6.8,.155,2.5,.157,3.9,.154,5.5,.166,1.8,.168,4.6,.165,6.1,.176,3.2,.178,5.0,.187,2.4,.189,4.1,.185,7.5,.198,3.6,.200,5.7,.209,1.4,.211,4.8,.222,3.0,.224,6.4,.235,4.2,.247,2.1,.252,5.4,
  .394,2.7,.42,4.57,.37,5.4,.33,6.5,.306,8.7,.27,8.9,.38,7.3,.42,3.77,.357,2.14,.28,1.6,.22,1.05,.26,7.6,.3,4.0,.32,3.0,.29,5.8,.24,8.2,.34,4.9,.1,8.6,.15,8.3,.2,7.9,.43,6.0],
 [.042,2.6,.045,1.2,.048,4.3,.051,0.4,.054,2.0,.057,3.4,.060,5.3,.063,1.0,.066,2.8,.069,0.3,.072,4.6,.075,1.8,.078,6.0,.081,0.7,.084,3.7,.087,2.4,.090,5.1,.093,1.4,.096,3.1,.099,0.5,.102,5.7,.105,2.0,.108,4.1,.111,0.9,.114,2.7,.117,6.4,.120,4.8,.123,1.6,.126,3.4,.129,0.6,.132,5.4,.135,2.2,.138,3.9,.141,1.1,.144,4.5,.147,2.9,.150,6.9,.153,0.8,.156,1.8,.159,4.3,.162,6.1,.165,2.6,.168,1.3,.171,5.0,.174,3.7,.177,2.1,.180,6.6,.183,0.5,.186,3.2,.189,5.5,.192,1.6,.195,4.2,.198,2.5,.202,4.9,.206,7.2,.050,3.0,.060,3.9,.070,3.2,.080,4.0,.090,2.9,.100,4.4,.110,3.6,.120,3.0,.130,4.2,.140,5.0,.150,3.5,.160,5.6,.170,4.4,.180,3.6,.190,4.8,.200,5.8,.085,5.8,.105,7.0,.125,7.6,.145,7.9,.165,8.3,.115,5.0,
  .254,6.5,.282,7.3,.31,6.5,.346,5.95,.327,4.57,.29,3.77,.254,2.7,.227,7.0,.2,8.7,.217,8.9,.355,2.4,.236,1.9,.034,3.77,.03,1.6,.22,4.0,.24,5.0,.26,4.4,.3,5.0,.27,1.0,.03,0.5,.033,5.5],
 [.262,2.5,.270,1.1,.278,4.1,.286,0.3,.294,1.9,.302,3.3,.310,5.2,.318,0.9,.326,2.7,.334,0.4,.342,4.5,.350,1.7,.358,5.9,.366,0.7,.374,3.6,.382,2.3,.390,5.0,.398,1.3,.406,3.0,.414,0.5,.422,5.6,.430,1.9,.438,4.0,.446,0.9,.454,2.6,.462,6.3,.470,4.7,.478,1.5,.486,3.3,.494,0.6,.502,5.3,.510,2.1,.518,3.8,.526,1.1,.534,4.4,.542,2.8,.550,6.8,.558,0.8,.566,1.7,.574,4.2,.582,6.0,.590,2.5,.598,1.2,.606,4.9,.614,3.6,.622,2.0,.630,6.5,.638,0.5,.646,3.1,.654,5.4,.662,1.5,.670,4.1,.680,2.4,.690,4.8,.700,7.1,.715,3.5,.730,5.5,.745,2.0,.760,4.4,.780,6.2,.800,3.0,.300,3.9,.330,3.5,.360,4.3,.390,3.8,.420,4.6,.450,3.9,.480,5.1,.510,4.5,.540,5.5,.570,4.8,.600,5.8,.630,4.4,.660,6.1,.690,5.9,.400,6.6,.460,7.4,.520,7.9,.580,7.5,.640,8.2,.350,6.8,
  .84,5.95,1.0,6.5,1.09,7.3,1.22,6.5,1.28,5.95,1.16,4.86,1.03,3.77,.9,2.4,.775,1.6,1.22,8.7,1.12,8.9,.66,8.7,.19,0.35,.19,2.4,.21,3.77,.85,4.5,.95,5.2,.92,3.4,.75,7.0,1.05,5.4,.88,7.8,.22,1.4]
];
var serpine2More = [
 [.003,7.0,.007,5.3,.003,4.0,.006,2.2,.003,0.9,.008,6.0,.018,6.9,.017,5.6,.019,4.3,.018,3.0,.019,1.7,.028,5.9,.029,4.5,.030,3.1,.029,1.2,.038,6.4,.039,4.9,.040,3.4,.039,2.0,.048,6.1,.049,4.7,.050,3.3,.049,1.9,.050,0.9,.058,5.7,.059,4.1,.060,2.8,.059,1.4,.068,6.3,.069,4.3,.070,3.1,.069,1.2,.078,5.2,.079,3.6,.080,2.5,.079,1.0,.088,4.7,.089,3.4,.090,2.2,.089,0.6,.098,4.8,.099,2.4,.100,1.4,.108,4.6,.109,3.5,.110,2.5,.118,3.9,.119,1.8,.128,5.1,.129,3.2],
 [.063,3.0,.068,1.8,.072,5.0,.077,2.6,.081,4.1,.086,1.1,.090,3.3,.094,5.6,.097,2.5,.103,3.8,.106,0.9,.110,4.9,.114,2.1,.118,3.3,.121,6.0,.126,4.0,.129,1.6,.133,3.4,.136,5.0,.141,2.2,.144,4.6,.148,1.0,.152,5.8,.156,3.0,.160,4.5,.163,2.1,.167,5.4,.171,3.4,.175,1.2,.178,4.0,.183,6.2,.187,2.9,.190,4.6,.195,3.8,.199,1.4,.203,5.1,.208,3.1,.212,4.4,.217,6.2,.222,2.7,.227,4.5,.232,3.5,.238,5.2,.244,2.0,.249,4.7,.255,3.3,.262,5.9,.270,3.9,.278,2.9,.286,4.8],
 [.057,3.0,.060,1.6,.063,4.9,.066,2.6,.069,4.1,.072,1.0,.075,3.3,.078,5.7,.081,2.5,.084,3.6,.087,0.9,.090,5.0,.093,2.0,.096,3.3,.099,6.0,.102,4.2,.105,1.4,.108,3.4,.111,5.4,.114,2.2,.117,4.4,.120,1.0,.123,6.2,.126,3.0,.129,4.7,.132,2.1,.135,5.5,.138,3.6,.141,1.4,.144,4.1,.147,6.0,.150,2.9,.153,4.8,.156,3.9,.159,1.6,.162,5.3,.165,3.3,.168,4.4,.171,6.4,.174,2.6,.177,4.6,.180,3.5,.183,5.3,.186,2.1,.189,4.1,.192,3.1,.195,5.9,.198,3.8,.201,2.4],
 [.005,2.2,.006,4.2,.006,6.4,.015,1.6,.016,3.6,.016,5.7,.026,2.3,.026,4.4,.027,6.6,.035,1.4,.036,3.5,.036,5.6,.046,2.9,.046,5.0,.047,7.0,.055,2.4,.056,4.5,.056,6.6,.065,1.8,.066,3.9,.067,6.0,.075,3.2,.076,5.3,.077,6.8,.085,2.6,.086,4.7,.087,6.8,.095,3.2,.096,5.3,.105,2.4,.106,4.6,.107,6.6,.115,3.0,.116,5.1,.127,3.5,.128,5.7,.138,2.9,.139,5.2,.150,4.0,.151,6.2,.160,3.0,.162,5.3,.172,4.2,.181,5.8,.193,4.6,.204,3.0,.215,5.5,.228,4.8,.240,3.6],
 [.047,3.3,.050,1.8,.053,4.8,.056,2.6,.059,3.8,.062,1.2,.065,5.6,.068,2.2,.071,3.7,.074,1.0,.077,4.9,.080,2.8,.083,6.1,.086,1.6,.089,3.5,.092,4.7,.095,2.2,.098,5.4,.101,3.3,.104,1.2,.107,4.7,.110,2.6,.113,6.0,.116,3.9,.119,1.8,.122,5.2,.125,2.8,.128,4.4,.131,1.5,.134,3.3,.137,5.9,.140,2.6,.143,4.2,.146,1.4,.149,5.1,.152,3.2,.155,4.6,.158,2.3,.161,3.9,.164,5.2,.167,2.9,.170,3.6,.173,6.2,.176,2.6,.179,4.6,.184,3.4,.188,5.9,.192,2.8,.196,4.0,.200,3.2],
 [.272,3.1,.281,1.6,.289,4.6,.297,2.5,.305,3.8,.313,1.3,.321,4.8,.329,3.2,.337,1.8,.345,5.4,.353,2.9,.361,4.0,.369,1.5,.377,5.1,.385,3.0,.393,4.2,.401,1.9,.409,5.6,.417,3.6,.425,2.5,.433,4.8,.441,3.3,.449,6.0,.457,2.2,.465,4.0,.473,5.6,.481,2.9,.489,4.8,.497,3.7,.505,6.1,.513,3.0,.521,5.0,.529,2.4,.537,4.0,.545,5.8,.553,3.3,.561,4.6,.569,2.0,.577,5.2,.585,3.9,.593,6.4,.601,3.0,.610,4.5,.620,5.2,.632,3.8,.645,2.7,.658,4.8,.672,3.5,.688,5.3]
];

// loess fits: [x, fit, lower, upper]
var col1a1Fit = [
 [[-0.005,9.77,9.4,10.1],[0.04,8.9,8.6,9.2],[0.087,7.85,7.6,8.1],[0.14,8.6,8.2,9.0],[0.197,9.45,8.8,10.1],[0.292,9.72,9.0,10.5],[0.387,10.09,8.5,11.7],[0.481,10.83,8.3,13.4]],
 [[-0.004,7.4,6.3,8.9],[0.041,7.26,6.7,7.9],[0.122,8.28,7.9,8.6],[0.176,9.24,8.9,9.55],[0.252,9.45,9.1,9.8],[0.371,9.72,8.9,10.5],[0.447,10.19,9.0,11.3],[0.55,11.04,8.9,13.1]],
 [[-0.004,9.38,7.9,10.9],[0.059,7.64,7.2,8.1],[0.091,7.74,7.4,8.1],[0.145,8.7,8.4,9.0],[0.209,9.98,9.6,10.35],[0.3,10.4,9.95,10.85],[0.391,10.19,9.4,11.0],[0.463,9.51,8.1,11.6]],
 [[-0.004,7.1,6.6,7.6],[0.055,8.7,8.4,9.0],[0.122,10.09,9.8,10.4],[0.18,10.83,10.5,11.15],[0.235,11.0,10.6,11.4],[0.289,10.66,10.0,11.3],[0.348,9.87,8.9,10.85],[0.428,8.38,6.3,10.4]],
 [[0.037,6.4,5.6,7.2],[0.071,7.96,7.6,8.3],[0.113,9.34,9.0,9.65],[0.138,9.56,9.25,9.87],[0.211,9.87,9.5,10.25],[0.291,10.04,9.3,10.8],[0.352,10.13,8.3,12.0]],
 [[0.187,5.87,4.7,7.3],[0.313,7.43,6.9,7.95],[0.45,9.07,8.75,9.4],[0.586,9.77,9.5,10.05],[0.797,10.02,9.6,10.45],[0.965,10.02,9.4,10.65],[1.134,9.77,8.7,10.8],[1.27,9.13,7.4,10.9]]
];
var compFit = [
 [[-0.005,3.43,3.0,3.9],[0.035,3.28,2.95,3.6],[0.064,2.85,2.55,3.15],[0.092,2.37,2.05,2.7],[0.121,3.0,2.6,3.45],[0.197,5.0,4.2,5.8],[0.292,5.85,4.9,6.8],[0.387,6.86,5.3,8.4],[0.481,8.23,5.0,11.3]],
 [[-0.006,3.5,2.5,4.6],[0.06,2.5,2.0,3.0],[0.13,3.1,2.7,3.5],[0.2,3.8,3.4,4.2],[0.3,3.5,2.9,4.1],[0.4,3.3,2.4,4.2],[0.49,4.2,2.9,5.5],[0.555,5.5,3.3,7.8]],
 [[-0.01,4.6,3.0,6.2],[0.03,2.9,2.2,3.6],[0.06,2.1,1.6,2.6],[0.13,3.6,3.2,4.0],[0.2,4.2,3.8,4.7],[0.27,4.7,4.0,5.4],[0.35,5.3,4.4,6.2],[0.41,5.9,4.6,7.2],[0.468,6.4,4.5,8.4]],
 [[-0.008,1.3,0.8,1.8],[0.04,3.2,2.8,3.6],[0.08,4.57,4.2,4.95],[0.155,5.86,5.4,6.3],[0.205,6.1,5.6,6.6],[0.28,5.43,4.6,6.3],[0.344,3.7,2.3,5.1],[0.42,1.14,-1.5,3.8]],
 [[0.034,2.0,1.0,3.0],[0.06,2.9,2.4,3.4],[0.089,3.7,3.3,4.1],[0.126,4.05,3.7,4.4],[0.17,4.05,3.65,4.45],[0.217,4.0,3.4,4.6],[0.29,4.1,3.0,5.2],[0.355,3.54,1.4,5.7]],
 [[0.19,0.0,-1.2,1.2],[0.26,1.8,1.2,2.4],[0.335,2.86,2.5,3.2],[0.49,3.55,3.25,3.85],[0.65,3.85,3.45,4.25],[0.775,4.2,3.5,4.9],[1.03,5.1,3.9,6.3],[1.28,5.6,3.6,7.6]]
];
var serpine2Fit = [
 [[-0.003,4.41,4.0,4.85],[0.045,3.59,3.3,3.9],[0.083,2.96,2.7,3.25],[0.121,3.32,3.0,3.65],[0.159,4.04,3.55,4.55],[0.235,4.68,3.9,5.5],[0.292,5.04,4.2,5.9],[0.387,5.55,4.3,6.8],[0.486,6.53,4.2,8.6]],
 [[-0.006,4.3,3.4,5.2],[0.04,3.2,2.7,3.7],[0.084,2.5,2.2,2.85],[0.166,3.77,3.45,4.1],[0.23,4.5,4.15,4.85],[0.295,4.86,4.4,5.3],[0.393,5.03,4.3,5.75],[0.49,4.97,3.9,6.0],[0.555,4.86,3.3,6.4]],
 [[0.005,4.3,3.4,5.2],[0.035,3.3,2.8,3.8],[0.06,2.68,2.4,3.0],[0.09,2.75,2.5,3.0],[0.127,3.23,2.95,3.5],[0.18,3.95,3.6,4.3],[0.236,4.59,4.2,5.0],[0.3,5.0,4.5,5.5],[0.373,5.3,4.6,6.0],[0.468,5.68,4.3,7.0]],
 [[-0.008,2.7,2.2,3.2],[0.04,3.5,3.2,3.8],[0.08,4.04,3.8,4.3],[0.155,4.59,4.3,4.9],[0.23,5.03,4.6,5.45],[0.306,4.97,4.3,5.65],[0.38,4.59,3.4,5.8],[0.43,4.3,2.6,6.0]],
 [[0.034,2.14,1.5,2.8],[0.06,2.9,2.5,3.3],[0.089,3.77,3.45,4.1],[0.12,4.2,3.9,4.5],[0.144,4.43,4.1,4.75],[0.217,4.59,4.15,5.0],[0.29,4.43,3.7,5.15],[0.355,3.94,2.6,5.3]],
 [[0.19,2.45,1.4,3.5],[0.27,2.35,1.95,2.75],[0.34,2.7,2.4,3.0],[0.42,3.5,3.25,3.75],[0.49,4.0,3.75,4.25],[0.71,4.43,4.1,4.75],[0.965,4.86,4.3,5.4],[1.15,5.4,4.5,6.3],[1.25,5.84,4.4,7.3]]
];

var allPts = [col1a1Pts, compPts, serpine2Pts];
var allMore = [col1a1More, compMore, serpine2More];
var allFits = [col1a1Fit, compFit, serpine2Fit];

// layout
var left0 = 154.5, stepX = 194.8, panelW = 188;
var top0 = 43, stepY = 186.5, panelH = 178;
var stripTop = 23.5, stripH = 19.5, rowStripW = 19;

function minorOf(ticks, dom) {
  var st = ticks.length > 1 ? ticks[1] - ticks[0] : 0.1;
  var out = [];
  for (var i = -1; i < ticks.length; i++) {
    var m = (i < 0 ? ticks[0] - st : ticks[i]) + st / 2;
    if (m > dom[0] && m < dom[1]) out.push(m);
  }
  return out;
}
function fixMinus(s) { return s.replace(/-/g, "\u2212"); }
function pairs(flat) { return d3.range(0, flat.length, 2).map(function(i) { return [flat[i], flat[i + 1]]; }); }

var svg = d3.select("#fig");
svg.append("rect").attr("width", 1358).attr("height", 708).attr("fill", "#fff");
svg.append("rect").attr("x", 7.5).attr("y", 6.5).attr("width", 1348).attr("height", 730)
  .attr("fill", "none").attr("stroke", "#5c5c5c").attr("stroke-width", 1.3);

var defs = svg.append("defs");

genes.forEach(function(gene, g) {
  var T = top0 + g * stepY;
  var y = d3.scaleLinear().domain(yDomains[g]).range([T + panelH, T]);

  // row strip
  svg.append("rect").attr("x", left0 - rowStripW).attr("y", T).attr("width", rowStripW).attr("height", panelH)
    .attr("fill", "#d9d9d9").attr("stroke", "#858585").attr("stroke-width", 1);
  svg.append("text").attr("transform", "translate(" + (left0 - rowStripW / 2 + 2.6) + "," + (T + panelH / 2) + ") rotate(-90)")
    .attr("text-anchor", "middle").attr("font-size", 7.5).attr("fill", "#1a1a1a").text("BLCA");

  // y axis ticks
  var ax = svg.append("g");
  yTicks[g].forEach(function(t, k) {
    ax.append("line").attr("x1", 129.5).attr("x2", 133).attr("y1", y(t)).attr("y2", y(t)).attr("stroke", "#333").attr("stroke-width", 1);
    ax.append("text").attr("x", 127).attr("y", y(t) + 3).attr("text-anchor", "end").attr("font-size", 8.8).attr("fill", "#4d4d4d").text(yTickLabels[g][k]);
  });

  // gene label
  svg.append("text").attr("transform", "translate(112.5," + [117, 315, 513][g] + ") rotate(-90)")
    .attr("text-anchor", "middle").attr("font-size", 29.5).attr("fill", "#000").text(gene);

  cells.forEach(function(cell, c) {
    var L = left0 + c * stepX;
    var x = d3.scaleLinear().domain(xDomains[c]).range([L, L + panelW]);
    var id = "clip" + g + "_" + c;
    defs.append("clipPath").attr("id", id).append("rect").attr("x", L).attr("y", T).attr("width", panelW).attr("height", panelH);

    var p = svg.append("g");
    p.append("rect").attr("x", L).attr("y", T).attr("width", panelW).attr("height", panelH).attr("fill", "#fff");

    // grid
    var grid = p.append("g");
    minorOf(xTicks[c], xDomains[c]).forEach(function(v) {
      grid.append("line").attr("x1", x(v)).attr("x2", x(v)).attr("y1", T).attr("y2", T + panelH).attr("stroke", "#f2f2f2").attr("stroke-width", 0.6);
    });
    minorOf(yTicks[g], yDomains[g]).forEach(function(v) {
      grid.append("line").attr("x1", L).attr("x2", L + panelW).attr("y1", y(v)).attr("y2", y(v)).attr("stroke", "#f2f2f2").attr("stroke-width", 0.6);
    });
    xTicks[c].forEach(function(v) {
      grid.append("line").attr("x1", x(v)).attr("x2", x(v)).attr("y1", T).attr("y2", T + panelH).attr("stroke", "#e5e5e5").attr("stroke-width", 1);
    });
    yTicks[g].forEach(function(v) {
      grid.append("line").attr("x1", L).attr("x2", L + panelW).attr("y1", y(v)).attr("y2", y(v)).attr("stroke", "#e5e5e5").attr("stroke-width", 1);
    });

    // points
    var pts = pairs(allPts[g][c]).concat(pairs(allMore[g][c]));
    p.append("g").attr("clip-path", "url(#" + id + ")").selectAll("circle").data(pts).enter().append("circle")
      .attr("cx", function(d) { return x(d[0]); })
      .attr("cy", function(d) { return y(d[1]); })
      .attr("r", 2.8).attr("fill", "#2b2b2b");

    // smooth band and line
    var fit = allFits[g][c];
    var sm = p.append("g").attr("clip-path", "url(#" + id + ")");
    sm.append("path").datum(fit)
      .attr("d", d3.area().x(function(d) { return x(d[0]); }).y0(function(d) { return y(d[2]); }).y1(function(d) { return y(d[3]); }).curve(d3.curveCatmullRom.alpha(0.5)))
      .attr("fill", "#999999").attr("fill-opacity", 0.4);
    sm.append("path").datum(fit)
      .attr("d", d3.line().x(function(d) { return x(d[0]); }).y(function(d) { return y(d[1]); }).curve(d3.curveCatmullRom.alpha(0.5)))
      .attr("fill", "none").attr("stroke", "#3366ff").attr("stroke-width", 2.1);

    // border
    p.append("rect").attr("x", L).attr("y", T).attr("width", panelW).attr("height", panelH)
      .attr("fill", "none").attr("stroke", "#858585").attr("stroke-width", 1);

    // annotation
    p.append("text").attr("x", L + panelW - 3).attr("y", T + 13.5).attr("text-anchor", "end")
      .attr("font-size", 12.4).attr("fill", "#ff0000").text("partial.cor = " + fixMinus(partialCor[g][c]));
    p.append("text").attr("x", L + panelW - 3).attr("y", T + 25).attr("text-anchor", "end")
      .attr("font-size", 12.4).attr("fill", "#ff0000").text("p = " + fixMinus(pValues[g][c]));

    // column strip on top row
    if (g === 0) {
      svg.append("rect").attr("x", L).attr("y", stripTop).attr("width", panelW).attr("height", stripH)
        .attr("fill", "#d9d9d9").attr("stroke", "#858585").attr("stroke-width", 1);
      svg.append("text").attr("x", L + panelW / 2).attr("y", stripTop + stripH / 2 + 3.4).attr("text-anchor", "middle")
        .attr("font-size", 9.8).attr("fill", "#1a1a1a").text(cell);
    }

    // x axis on bottom row
    if (g === genes.length - 1) {
      var B = T + panelH;
      xTicks[c].forEach(function(t, k) {
        svg.append("line").attr("x1", x(t)).attr("x2", x(t)).attr("y1", B).attr("y2", B + 3.5).attr("stroke", "#333").attr("stroke-width", 1);
        svg.append("text").attr("x", x(t)).attr("y", B + 13).attr("text-anchor", "middle")
          .attr("font-size", 8.8).attr("fill", "#4d4d4d").text(xTickLabels[c][k]);
      });
    }
  });
});

// titles
var yt = svg.append("text").attr("transform", "translate(68,321) rotate(-90)").attr("text-anchor", "middle")
  .attr("font-size", 30).attr("fill", "#000");
yt.append("tspan").text("Expression level (log");
yt.append("tspan").attr("font-size", 20).attr("dy", 7).text("2");
yt.append("tspan").attr("dy", -7).text(" TPM)");

svg.append("text").attr("x", 722.5).attr("y", 638).attr("text-anchor", "middle")
  .attr("font-size", 29.5).attr("fill", "#000").text("Infiltration level");

// caption
var cap = svg.append("text").attr("x", 22.5).attr("y", 693).attr("font-size", 18).attr("fill", "#231f20");
cap.append("tspan").attr("font-weight", "bold").text("FIGURE 6 |");
cap.append("tspan").text(" Correlation of prognostic genes\u2019 expression with immune infiltration level.");
</script>
</body>
</html>
